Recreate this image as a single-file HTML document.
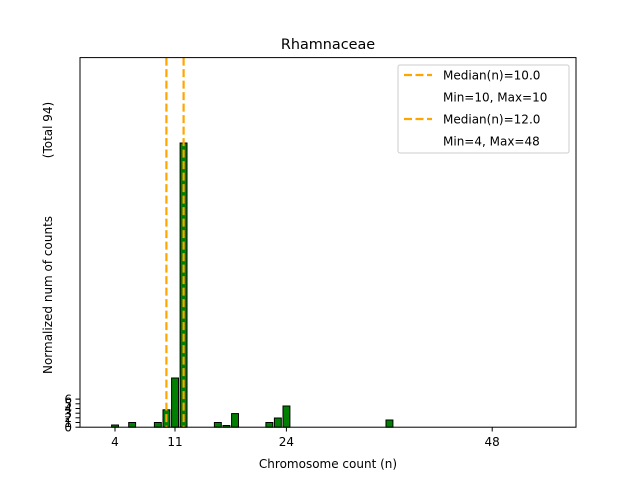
<!DOCTYPE html>
<html><head><style>body{margin:0;background:#fff}svg{display:block;font-family:"DejaVu Sans","Liberation Sans",sans-serif}</style></head><body>
<svg width="640" height="480" viewBox="0 0 640 480">
<rect width="640" height="480" fill="#fff"/>
<g fill="#008000" stroke="#000" stroke-width="1">
<rect x="111.6" y="425" width="6.9" height="2.2"/>
<rect x="128.7" y="422.5" width="6.9" height="4.7"/>
<rect x="154.4" y="422.5" width="6.9" height="4.7"/>
<rect x="163" y="409.8" width="6.9" height="17.4"/>
<rect x="171.6" y="378" width="6.9" height="49.2"/>
<rect x="180.1" y="143" width="6.9" height="284.2"/>
<rect x="214.4" y="422.5" width="6.9" height="4.7"/>
<rect x="223" y="425.5" width="6.9" height="1.7"/>
<rect x="231.6" y="413.6" width="6.9" height="13.6"/>
<rect x="265.9" y="422.5" width="6.9" height="4.7"/>
<rect x="274.4" y="418" width="6.9" height="9.2"/>
<rect x="283" y="406" width="6.9" height="21.2"/>
<rect x="386" y="420" width="6.9" height="7.2"/>
</g>
<g stroke="#ffa500" stroke-width="2.2" stroke-dasharray="8,3.5">
<line x1="166.4" y1="57.6" x2="166.4" y2="427.2"/>
<line x1="183.6" y1="57.6" x2="183.6" y2="427.2"/>
</g>
<rect x="80" y="57.6" width="496" height="369.6" fill="none" stroke="#000" stroke-width="1"/>
<g stroke="#000" stroke-width="1">
<line x1="115" y1="427.2" x2="115" y2="431.5"/>
<line x1="175" y1="427.2" x2="175" y2="431.5"/>
<line x1="286.4" y1="427.2" x2="286.4" y2="431.5"/>
<line x1="492.2" y1="427.2" x2="492.2" y2="431.5"/>
<line x1="75.5" y1="427.2" x2="80" y2="427.2"/>
<line x1="75.5" y1="422.5" x2="80" y2="422.5"/>
<line x1="75.5" y1="417.8" x2="80" y2="417.8"/>
<line x1="75.5" y1="413.2" x2="80" y2="413.2"/>
<line x1="75.5" y1="408.5" x2="80" y2="408.5"/>
<line x1="75.5" y1="403.8" x2="80" y2="403.8"/>
<line x1="75.5" y1="399.1" x2="80" y2="399.1"/>
</g>
<g font-size="12" fill="#000" text-anchor="middle">
<text x="115" y="446">4</text>
<text x="175" y="446">11</text>
<text x="286.4" y="446">24</text>
<text x="492.2" y="446">48</text>
<text x="328" y="468">Chromosome count (n)</text>
</g>
<g font-size="12" fill="#000" text-anchor="end">
<text x="72" y="431.5">0</text>
<text x="72" y="426.8">1</text>
<text x="72" y="422.1">2</text>
<text x="72" y="417.4">3</text>
<text x="72" y="412.7">4</text>
<text x="72" y="408">5</text>
<text x="72" y="403.4">6</text>
</g>
<text transform="translate(52,295) rotate(-90)" font-size="12" text-anchor="middle">Normalized num of counts</text>
<text transform="translate(52,130) rotate(-90)" font-size="12" text-anchor="middle">(Total 94)</text>
<text x="328" y="49" font-size="14.4" text-anchor="middle">Rhamnaceae</text>
<rect x="398" y="65" width="171" height="88" rx="2" fill="#fff" fill-opacity="0.8" stroke="#ccc"/>
<g stroke="#ffa500" stroke-width="2.2" stroke-dasharray="8,3.5">
<line x1="404" y1="75" x2="432" y2="75"/>
<line x1="404" y1="119" x2="432" y2="119"/>
</g>
<g font-size="12" fill="#000">
<text x="443" y="79.5">Median(n)=10.0</text>
<text x="443" y="101.5">Min=10, Max=10</text>
<text x="443" y="123.5">Median(n)=12.0</text>
<text x="443" y="145.5">Min=4, Max=48</text>
</g>
</svg>
</body></html>
